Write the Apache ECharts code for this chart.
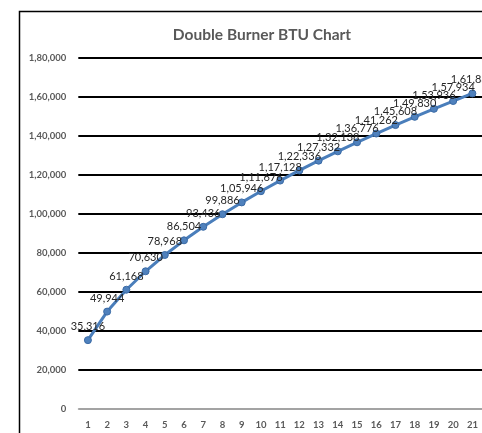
<!DOCTYPE html>
<html>
<head>
<meta charset="utf-8">
<script src="https://cdn.jsdelivr.net/npm/echarts@6/dist/echarts.min.js"></script>
<style>
html,body{margin:0;padding:0;background:#fff;}
#chart{width:482px;height:433px;}
</style>
</head>
<body>
<div id="chart"></div>
<script>
const titleText = 'Double Burner BTU Chart';
const categories = ['1','2','3','4','5','6','7','8','9','10','11','12','13','14','15','16','17','18','19','20','21'];
const btuValues = [35316, 49944, 61168, 70630, 78968, 86504, 93436, 99886, 105946, 111676, 117128, 122336, 127332, 132138, 136776, 141262, 145608, 149830, 153936, 157934, 161834];
const yTicks = [0, 20000, 40000, 60000, 80000, 100000, 120000, 140000, 160000, 180000];

function indianFormat(n) {
  const s = String(Math.round(n));
  if (s.length <= 3) return s;
  const last3 = s.slice(-3);
  let rest = s.slice(0, -3);
  const parts = [];
  while (rest.length > 2) {
    parts.unshift(rest.slice(-2));
    rest = rest.slice(0, -2);
  }
  if (rest.length) parts.unshift(rest);
  return parts.join(',') + ',' + last3;
}

const chart = echarts.init(document.getElementById('chart'), null, {renderer: 'canvas'});
chart.setOption({
  animation: false,
  backgroundColor: '#ffffff',
  graphic: [{
    type: 'rect',
    shape: {x: 19.5, y: 11.5, width: 500, height: 500},
    style: {fill: 'none', stroke: '#000', lineWidth: 1.5},
    silent: true,
    z: -1
  }],
  title: {
    text: titleText,
    left: 257,
    textAlign: 'center',
    top: 22,
    textStyle: {fontFamily: 'Lato', fontWeight: 'bold', fontSize: 15.5, color: '#595959'}
  },
  grid: {left: 78.3, right: -4.8, top: 58, bottom: 24, containLabel: false},
  xAxis: {
    type: 'category',
    data: categories,
    boundaryGap: true,
    axisLine: {show: true, lineStyle: {color: '#d9d9d9', width: 1.5}},
    axisTick: {show: false},
    axisLabel: {fontFamily: 'Lato', fontWeight: 'bold', fontSize: 9.5, color: '#595959', margin: 11, interval: 0}
  },
  yAxis: {
    type: 'value',
    min: 0,
    max: 180000,
    interval: 20000,
    axisLine: {show: false},
    axisTick: {show: false},
    splitLine: {show: true, lineStyle: {color: '#000', width: 2}},
    axisLabel: {
      fontFamily: 'Lato', fontWeight: 'bold', fontSize: 9.5, color: '#595959', margin: 12,
      formatter: v => yTicks.includes(v) ? indianFormat(v) : ''
    }
  },
  series: [{
    type: 'line',
    data: btuValues,
    symbol: 'circle',
    symbolSize: 7,
    lineStyle: {color: '#4a7ebb', width: 3},
    itemStyle: {color: '#4f81bd', borderColor: '#3a6aa5', borderWidth: 1},
    label: {
      show: true,
      position: 'top',
      distance: 4,
      fontFamily: 'Lato',
      fontSize: 11,
      color: '#262626',
      formatter: p => indianFormat(p.value)
    },
    labelLayout: {hideOverlap: false},
    z: 3
  }]
});
</script>
</body>
</html>
